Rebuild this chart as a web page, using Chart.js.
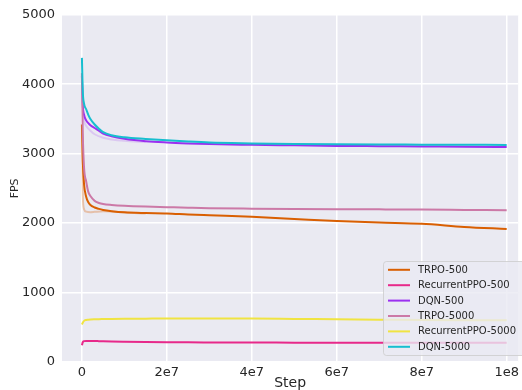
<!DOCTYPE html>
<html>
<head>
<meta charset="utf-8">
<script src="https://cdn.jsdelivr.net/npm/chart.js@4"></script>
<style>
  html, body { margin: 0; padding: 0; background: #ffffff; }
  #wrap { width: 522px; height: 390px; }
</style>
</head>
<body>
<div id="wrap"><canvas id="c" width="522" height="390"></canvas></div>
<script>
// ---- data ----
const steps = [0, 2e5, 5e5, 1e6, 1.5e6, 2e6, 3e6, 4e6, 5e6, 7e6, 1e7, 1.5e7, 2e7, 2.5e7, 3e7, 4e7, 5e7, 6e7, 7e7, 8e7, 9e7, 1e8];

const seriesNames = ["TRPO-500", "RecurrentPPO-500", "DQN-500", "TRPO-5000", "RecurrentPPO-5000", "DQN-5000"];

const trpo500      = [3420, 2900, 2560, 2380, 2300, 2260, 2225, 2205, 2190, 2172, 2155, 2145, 2140, 2125, 2113, 2090, 2060, 2030, 2008, 1990, 1945, 1915];
const recPPO500    = [240, 285, 300, 304, 304, 303, 302, 300, 298, 295, 292, 288, 285, 283, 282, 280, 279, 278, 278, 278, 278, 278];
const dqn500       = [4120, 3700, 3560, 3480, 3440, 3410, 3370, 3330, 3290, 3250, 3215, 3180, 3161, 3148, 3138, 3128, 3120, 3112, 3108, 3104, 3100, 3097];
const trpo5000     = [4160, 3300, 2800, 2600, 2450, 2390, 2320, 2290, 2275, 2262, 2250, 2238, 2230, 2222, 2215, 2208, 2203, 2200, 2198, 2195, 2190, 2185];
const recPPO5000   = [540, 565, 592, 605, 609, 612, 615, 617, 618, 620, 622, 624, 626, 627, 627, 625, 620, 615, 610, 605, 602, 600];
const dqn5000      = [4380, 3900, 3720, 3640, 3560, 3500, 3420, 3360, 3310, 3265, 3235, 3212, 3194, 3175, 3160, 3148, 3140, 3135, 3132, 3130, 3128, 3126];

// faint spread lines (lower runs) seen early in the curves
const bandSteps    = [0, 2e5, 5e5, 1e6, 2e6, 3e6, 5e6, 7e6, 1e7, 1.5e7];
const trpo500Low   = [3400, 2400, 2200, 2165, 2158, 2162, 2170, 2166, 2152, 2140];
const dqn500Low    = [4100, 3650, 3480, 3400, 3330, 3280, 3230, 3205, 3185, 3168];

const yTicks = [0, 1000, 2000, 3000, 4000, 5000];
const xTicks = [0, 2e7, 4e7, 6e7, 8e7, 1e8];
const xTickLabels = ["0", "2e7", "4e7", "6e7", "8e7", "1e8"];

// ---- styling ----
const colors = ["#d95f02", "#e7298a", "#9b30f0", "#cc79a7", "#f0e442", "#17becf"];
const mainSeries = [trpo500, recPPO500, dqn500, trpo5000, recPPO5000, dqn5000];

function pts(xs, ys) { return ys.map((v, i) => ({ x: xs[i], y: v })); }

const datasets = [];
datasets.push({
  label: "_trpo500Low", data: pts(bandSteps, trpo500Low),
  borderColor: "rgba(217,95,2,0.3)", borderWidth: 2, pointRadius: 0,
  cubicInterpolationMode: "monotone", order: 20
});
datasets.push({
  label: "_dqn500Low", data: pts(bandSteps, dqn500Low),
  borderColor: "rgba(155,48,240,0.18)", borderWidth: 2, pointRadius: 0,
  cubicInterpolationMode: "monotone", order: 20
});
mainSeries.forEach((s, i) => {
  datasets.push({
    label: seriesNames[i], data: pts(steps, s),
    borderColor: colors[i], backgroundColor: colors[i],
    borderWidth: 2, pointRadius: 0,
    cubicInterpolationMode: "monotone", order: 10 - i
  });
});

const FONT = "'DejaVu Sans', sans-serif";
const TXT = "#262626";

const bgPlugin = {
  id: "plotBg",
  beforeDraw(chart) {
    const { ctx, chartArea: a } = chart;
    ctx.save();
    ctx.fillStyle = "#eaeaf2";
    ctx.fillRect(a.left, a.top, a.right - a.left, a.bottom - a.top);
    ctx.restore();
  }
};

const legendPlugin = {
  id: "innerLegend",
  afterDraw(chart) {
    const { ctx } = chart;
    const x0 = 383.5, y0 = 261.5, w = 150, h = 94, r = 3;
    ctx.save();
    ctx.beginPath();
    ctx.moveTo(x0 + r, y0);
    ctx.lineTo(x0 + w - r, y0);
    ctx.quadraticCurveTo(x0 + w, y0, x0 + w, y0 + r);
    ctx.lineTo(x0 + w, y0 + h - r);
    ctx.quadraticCurveTo(x0 + w, y0 + h, x0 + w - r, y0 + h);
    ctx.lineTo(x0 + r, y0 + h);
    ctx.quadraticCurveTo(x0, y0 + h, x0, y0 + h - r);
    ctx.lineTo(x0, y0 + r);
    ctx.quadraticCurveTo(x0, y0, x0 + r, y0);
    ctx.closePath();
    ctx.fillStyle = "rgba(234,234,242,0.8)";
    ctx.fill();
    ctx.strokeStyle = "rgba(204,204,204,0.8)";
    ctx.lineWidth = 1;
    ctx.stroke();
    ctx.font = "10px " + FONT;
    ctx.textBaseline = "middle";
    ctx.fillStyle = TXT;
    seriesNames.forEach((name, i) => {
      const y = 269.8 + i * 15.4;
      ctx.beginPath();
      ctx.moveTo(388, y);
      ctx.lineTo(410, y);
      ctx.strokeStyle = colors[i];
      ctx.lineWidth = 2;
      ctx.stroke();
      ctx.fillText(name, 418, y + 0.5);
    });
    ctx.restore();
  }
};

new Chart(document.getElementById("c"), {
  type: "line",
  data: { datasets },
  options: {
    responsive: false,
    devicePixelRatio: 1,
    animation: false,
    layout: { padding: { top: 14, right: 2, left: 0, bottom: 0 } },
    plugins: { legend: { display: false }, tooltip: { enabled: false } },
    scales: {
      x: {
        type: "linear",
        min: -4.69e6, max: 1.027e8,
        afterFit(s) { s.height = 28; },
        afterBuildTicks(s) { s.ticks = xTicks.map(v => ({ value: v })); },
        grid: { color: "#ffffff", lineWidth: 1.5, drawTicks: false },
        border: { display: false },
        ticks: {
          color: TXT, font: { family: FONT, size: 13 }, padding: 3,
          maxRotation: 0, autoSkip: false,
          callback: (v) => { const k = xTicks.indexOf(v); return k >= 0 ? xTickLabels[k] : ""; }
        },
        title: { display: true, text: "Step", color: TXT, font: { family: FONT, size: 14, lineHeight: 1 }, padding: { top: 0, bottom: 0 } }
      },
      y: {
        min: 0, max: 5000,
        afterFit(s) { s.width = 62; },
        afterBuildTicks(s) { s.ticks = yTicks.map(v => ({ value: v })); },
        grid: { color: "#ffffff", lineWidth: 1.5, drawTicks: false },
        border: { display: false },
        ticks: { color: TXT, font: { family: FONT, size: 13 }, padding: 7, callback: (v) => String(v) },
        title: { display: true, text: "FPS", color: TXT, font: { family: FONT, size: 11, lineHeight: 1 }, padding: { top: 10, bottom: 0 } }
      }
    }
  },
  plugins: [bgPlugin, legendPlugin]
});
</script>
</body>
</html>
